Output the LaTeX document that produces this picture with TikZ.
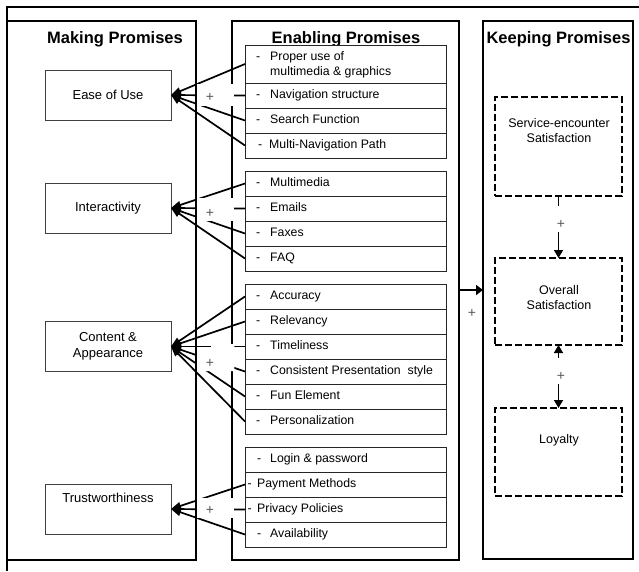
\documentclass[tikz,border=0pt]{standalone}
\usepackage{fontspec}
\setmainfont{Liberation Sans}
\usetikzlibrary{arrows.meta}
\begin{document}
\begin{tikzpicture}[x=1pt,y=-1pt,
  panel/.style={draw, line width=1.6pt, inner sep=0, outer sep=0},
  lbox/.style={draw=black!75, line width=0.8pt, fill=white, minimum width=126pt, minimum height=50pt, inner sep=0, outer sep=0, font=\fontsize{13}{16}\selectfont, align=center},
  row/.style={draw=black!85, line width=0.9pt, fill=white, minimum width=201pt, minimum height=25pt, inner sep=0, outer sep=0},
  itxtbase/.style={anchor=west, inner sep=0, font=\fontsize{12.3}{15}\selectfont, align=left},
  itxt/.style={itxtbase, text height=9pt, text depth=2.5pt},
  head/.style={font=\fontsize{16.5}{19}\selectfont\bfseries, inner sep=0, anchor=base},
  conn/.style={line width=1.7pt, -{Triangle[length=10pt,width=7.5pt]}},
  plus/.style={font=\fontsize{14}{16}\selectfont, text=black!65, inner sep=0},
  cover/.style={fill=white},
  dbox/.style={draw, dash pattern=on 7pt off 3pt, line width=1.6pt, minimum width=127pt, inner sep=0, outer sep=0},
  rtxt/.style={font=\fontsize{12.5}{15}\selectfont, align=center, inner sep=0},
  varr/.style={line width=1.6pt, -{Triangle[length=8pt,width=9pt]}}
]
\useasboundingbox (0,0) rectangle (639,571);

% outer frame
\draw[line width=2pt] (639,7) -- (7,7) -- (7,571);

% panels
\node[panel, minimum width=189pt, minimum height=539pt] (lp) at (101.5,290.5) {};
\node[panel, minimum width=227pt, minimum height=539pt] (mp) at (345.5,290.5) {};
\node[panel, minimum width=150pt, minimum height=538pt] (rp) at (558,290) {};

% headings
\node[head] (h1) at (115,43.5) {Making Promises};
\node[head] (h2) at (346,43.5) {Enabling Promises};
\node[head] (h3) at (558.5,43.5) {Keeping Promises};

% left boxes
\node[lbox] (ease) at (108,95) {Ease of Use};
\node[lbox] (inter) at (108,208) {Interactivity};
\node[lbox] (cont) at (108,346.5) {Content \&\\Appearance};
\node[lbox] (trust) at (108,509) {};
\node[rtxt, font=\fontsize{13}{16}\selectfont] (trustt) at (108,498) {Trustworthiness};

% group 1 rows
\node[row, minimum height=38pt] (p1) at (345.5,64) {};
\node[row] (p2) at (345.5,95.5) {};
\node[row] (p3) at (345.5,120.5) {};
\node[row] (p4) at (345.5,145.5) {};
\node[itxtbase] (t1) at (256,64.5) {\makebox[14pt][l]{-}Proper use of\\\hspace*{14pt}multimedia \& graphics};
\node[itxt] (t2) at (256,95.5) {\makebox[14pt][l]{-}Navigation structure};
\node[itxt] (t3) at (256,120.5) {\makebox[14pt][l]{-}Search Function};
\node[itxt] (t4) at (258,145.5) {\makebox[11pt][l]{-}Multi-Navigation Path};

% group 2 rows
\node[row] (q1) at (345.5,183.5) {};
\node[row] (q2) at (345.5,208.5) {};
\node[row] (q3) at (345.5,233.5) {};
\node[row] (q4) at (345.5,258.5) {};
\node[itxt] (u1) at (256,183.5) {\makebox[14pt][l]{-}Multimedia};
\node[itxt] (u2) at (256,208.5) {\makebox[14pt][l]{-}Emails};
\node[itxt] (u3) at (256,233.5) {\makebox[14pt][l]{-}Faxes};
\node[itxt] (u4) at (256,258.5) {\makebox[14pt][l]{-}FAQ};

% group 3 rows
\node[row] (r1) at (345.5,296.5) {};
\node[row] (r2) at (345.5,321.5) {};
\node[row] (r3) at (345.5,346.5) {};
\node[row] (r4) at (345.5,371.5) {};
\node[row] (r5) at (345.5,396.5) {};
\node[row] (r6) at (345.5,421.5) {};
\node[itxt] (v1) at (256,296.5) {\makebox[14pt][l]{-}Accuracy};
\node[itxt] (v2) at (256,321.5) {\makebox[14pt][l]{-}Relevancy};
\node[itxt] (v3) at (256,346.5) {\makebox[14pt][l]{-}Timeliness};
\node[itxt] (v4) at (256,371.5) {\makebox[14pt][l]{-}Consistent Presentation\ \ style};
\node[itxt] (v5) at (256,396.5) {\makebox[14pt][l]{-}Fun Element};
\node[itxt] (v6) at (256,421.5) {\makebox[14pt][l]{-}Personalization};

% group 4 rows
\node[row] (s1) at (345.5,459.5) {};
\node[row] (s2) at (345.5,484.5) {};
\node[row] (s3) at (345.5,509.5) {};
\node[row] (s4) at (345.5,534.5) {};
\node[itxt] (w1) at (257,459.5) {\makebox[13pt][l]{-}Login \& password};
\node[itxt] (w2) at (247.5,484.5) {\makebox[9.5pt][l]{-}Payment Methods};
\node[itxt] (w3) at (247.5,509.5) {\makebox[9.5pt][l]{-}Privacy Policies};
\node[itxt] (w4) at (257,534.5) {\makebox[13pt][l]{-}Availability};

% connectors
\foreach \r in {p1,p2,p3,p4} \draw[conn] (\r.west) -- (ease.east);
\foreach \r in {q1,q2,q3,q4} \draw[conn] (\r.west) -- (inter.east);
\foreach \r in {r1,r2,r3,r4,r5,r6} \draw[conn] (\r.west) -- (cont.east);
\foreach \r in {s2,s3,s4} \draw[conn] (\r.west) -- (trust.east);

% covers and plus labels
\fill[cover] (197.2,84) rectangle (234.3,106);
\node[plus] (pl1) at (210,97) {+};
\fill[cover] (197.2,198) rectangle (234.3,221);
\node[plus] (pl2) at (210,213) {+};
\fill[cover] (197.2,349) -- (211,349) -- (211,344) -- (234.3,344) -- (234.3,371) -- (197.2,371) -- cycle;
\node[plus] (pl3) at (210,363) {+};
\fill[cover] (197.2,498) rectangle (234.3,518);
\node[plus] (pl4) at (210,510) {+};

% right column
\node[dbox, minimum height=99pt] (sv) at (558.5,146.5) {};
\node[rtxt] (svt) at (559,130.5) {Service-encounter\\Satisfaction};
\node[dbox, minimum height=87pt] (ov) at (558.5,301.5) {};
\node[rtxt] (ovt) at (559,297.5) {Overall\\Satisfaction};
\node[dbox, minimum height=88pt] (ly) at (558.5,452) {};
\node[rtxt, anchor=base] (lyt) at (559,443.5) {Loyalty};

\draw[varr] (sv.south) -- (ov.north);
\fill[cover] (550,206) rectangle (567,232);
\node[plus] (pl5) at (561,224) {+};

\draw[line width=1.6pt, {Triangle[length=8pt,width=9pt]}-{Triangle[length=8pt,width=9pt]}] (ov.south) -- (ly.north);
\fill[cover] (550,358) rectangle (567,384);
\node[plus] (pl6) at (561,376) {+};

\coordinate (mo) at (459,290);
\draw[line width=2.4pt, -{Triangle[length=7pt,width=10pt]}] (mo) -- (mo -| rp.west);
\node[plus] (pl7) at (472,313) {+};
\end{tikzpicture}
\end{document}
